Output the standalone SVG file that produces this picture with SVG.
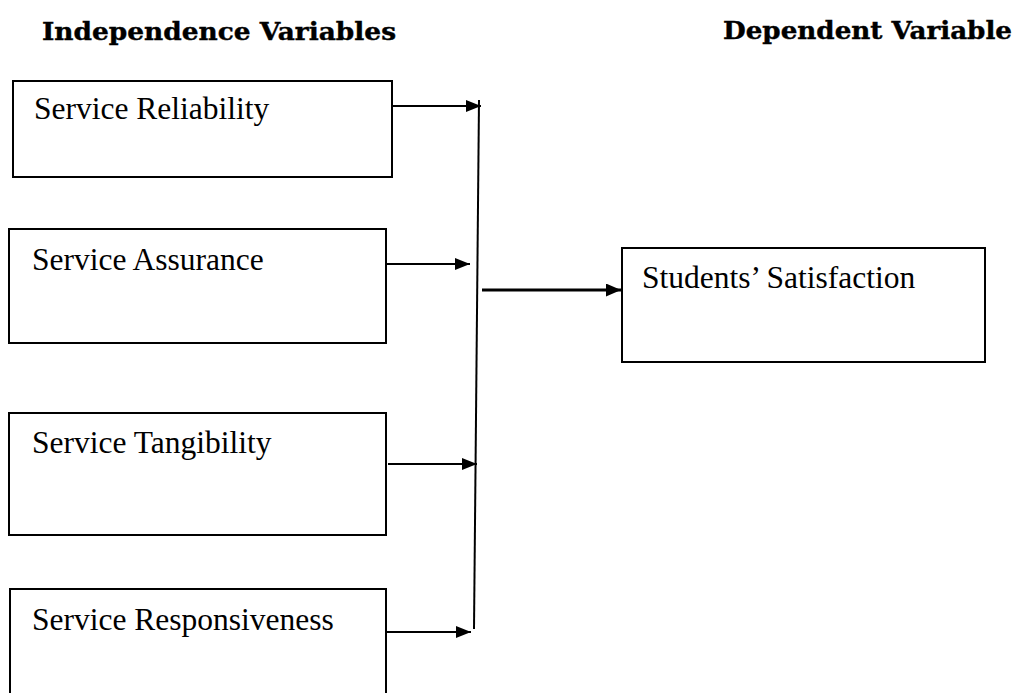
<svg xmlns="http://www.w3.org/2000/svg" width="1019" height="693" viewBox="0 0 1019 693">
<style>
.box{fill:#fff;stroke:#000;stroke-width:2}
.lbl{font-family:"Liberation Serif","Times New Roman",serif;font-size:31.5px;fill:#000}
.hd{font-family:"DejaVu Serif","Liberation Serif",serif;font-weight:bold;font-size:24px;fill:#000;stroke:#000;stroke-width:0.4}
.ln{stroke:#000;stroke-width:2;fill:none}
.thick{stroke:#000;stroke-width:3;fill:none}
</style>
<defs>
<marker id="ah2" markerWidth="15" markerHeight="13" refX="15" refY="6.5" orient="auto" markerUnits="userSpaceOnUse" viewBox="0 0 15 13">
<path d="M0,0 L15,6.5 L0,13 z" fill="#000"/>
</marker>
<marker id="ah1" markerWidth="15" markerHeight="12" refX="15" refY="6" orient="auto" markerUnits="userSpaceOnUse" viewBox="0 0 15 12">
<path d="M0,0 L15,6 L0,12 z" fill="#000"/>
</marker>
</defs>
<text class="hd" x="42" y="40" textLength="354" lengthAdjust="spacingAndGlyphs">Independence Variables</text>
<text class="hd" x="723" y="39" textLength="289" lengthAdjust="spacingAndGlyphs">Dependent Variable</text>
<g id="n1"><rect class="box" x="13" y="81" width="379" height="96"/><text class="lbl" x="34" y="119">Service Reliability</text></g>
<g id="n2"><rect class="box" x="9" y="229" width="377" height="114"/><text class="lbl" x="32" y="270">Service Assurance</text></g>
<g id="n3"><rect class="box" x="9" y="413" width="377" height="122"/><text class="lbl" x="32" y="453">Service Tangibility</text></g>
<g id="n4"><rect class="box" x="10" y="589" width="376" height="120"/><text class="lbl" x="32" y="630">Service Responsiveness</text></g>
<g id="n5"><rect class="box" x="622" y="248" width="363" height="114"/><text class="lbl" x="642" y="288">Students’ Satisfaction</text></g>
<g id="connectors">
<line class="ln" x1="392" y1="106" x2="481" y2="106" marker-end="url(#ah1)"/>
<line class="ln" x1="386" y1="264" x2="470" y2="264" marker-end="url(#ah1)"/>
<line class="ln" x1="388" y1="464" x2="477" y2="464" marker-end="url(#ah1)"/>
<line class="ln" x1="386" y1="632" x2="471" y2="632" marker-end="url(#ah1)"/>
<line class="ln" x1="479" y1="100" x2="474" y2="629"/>
<line class="thick" x1="482" y1="290" x2="621" y2="290" marker-end="url(#ah2)"/>
</g>
</svg>
